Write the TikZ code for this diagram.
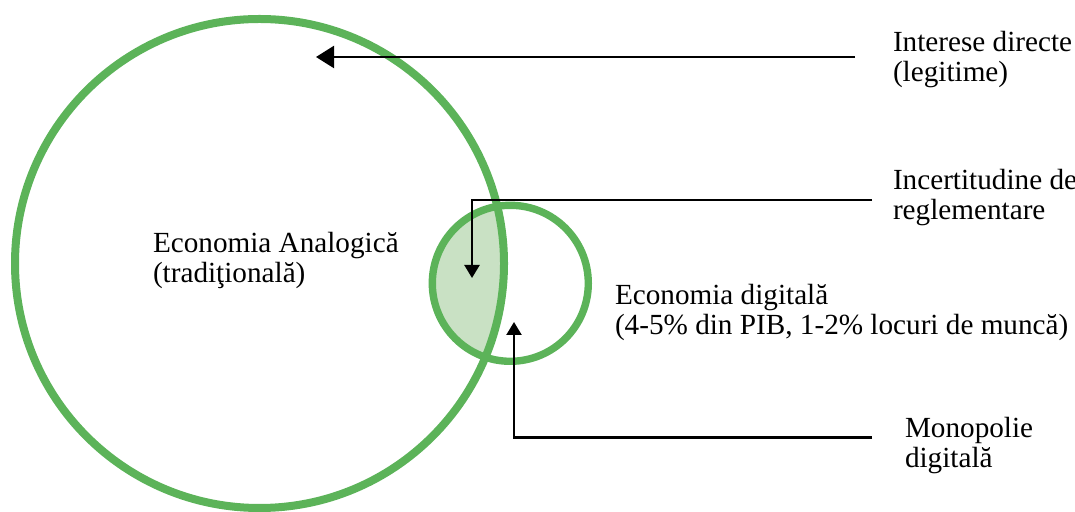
\documentclass[tikz,border=0pt]{standalone}
\usepackage{fontspec}
\setmainfont{Liberation Serif}
\usetikzlibrary{arrows.meta}
\definecolor{ringgreen}{RGB}{92,179,89}
\definecolor{lensgreen}{RGB}{201,225,196}

\begin{document}
\begin{tikzpicture}[x=0.5pt,y=-0.5pt,
	ring/.style={draw=ringgreen,line width=4pt},
	lbl/.style={anchor=base west,align=left,inner sep=0,outer sep=0,font=\fontsize{14.6}{15}\selectfont},
	pointer/.style={draw=black,line width=1.15pt,-{Triangle[length=6.5pt,width=7.5pt]}}]
	\useasboundingbox (0,0) rectangle (1075,512);
	\coordinate (bigc) at (259.5,263.5);
	\coordinate (smallc) at (510.3,283.3);
	% overlap of the two economies
	\begin{scope}
		\clip (bigc) circle[radius=244.5];
		\fill[lensgreen] (smallc) circle[radius=78];
	\end{scope}
	\draw[ring] (bigc) circle[radius=244.5];
	\draw[ring,line width=3.7pt] (smallc) circle[radius=78];
	\node[lbl] (analog) at (153,282.7) {Economia Analogică\\(tradiţională)};
	\node[lbl] (digital) at (615,335) {Economia digitală\\(4-5\% din PIB, 1-2\% locuri de muncă)};
	\node[lbl] (interese) at (893,81.7) {Interese directe\\(legitime)};
	\node[lbl] (incert) at (893,220) {Incertitudine de\\reglementare};
	\node[lbl] (monop) at (905,467.7) {Monopolie\\digitală};
	\coordinate (interese-s) at (855,57);
	\coordinate (interese-t) at (316,57);
	\coordinate (incert-s) at (872,200);
	\coordinate (incert-t) at (472,278);
	\coordinate (monop-s) at (872,437.5);
	\coordinate (monop-t) at (514,322);
	\draw[pointer,-{Triangle[length=9pt,width=11pt]}] (interese-s) -- (interese-t);
	\draw[pointer] (incert-s) -| (incert-t);
	\draw[pointer] (monop-s) -| (monop-t);
\end{tikzpicture}
\end{document}
